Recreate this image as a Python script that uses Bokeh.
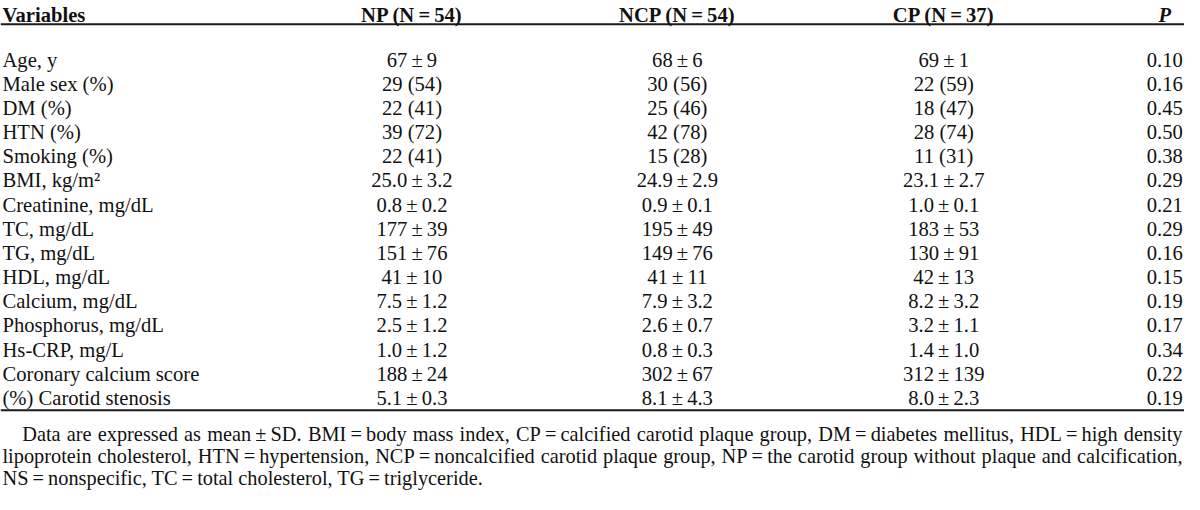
from bokeh.plotting import figure
from bokeh.models import ColumnDataSource, Range1d
from bokeh.core.properties import value
from bokeh.embed import file_html
from bokeh.resources import INLINE

T = "\u2009"  # thin space
PM = T + "\u00b1" + T
EQ = T + "=" + T

# ---------------- data ----------------
headers = ["Variables", "NP (N" + EQ + "54)", "NCP (N" + EQ + "54)", "CP (N" + EQ + "37)", "P"]
variables = ["Age, y", "Male sex (%)", "DM (%)", "HTN (%)", "Smoking (%)", "BMI, kg/m\u00b2",
             "Creatinine, mg/dL", "TC, mg/dL", "TG, mg/dL", "HDL, mg/dL", "Calcium, mg/dL",
             "Phosphorus, mg/dL", "Hs-CRP, mg/L", "Coronary calcium score", "(%) Carotid stenosis"]
np_vals = ["67" + PM + "9", "29 (54)", "22 (41)", "39 (72)", "22 (41)", "25.0" + PM + "3.2",
           "0.8" + PM + "0.2", "177" + PM + "39", "151" + PM + "76", "41" + PM + "10",
           "7.5" + PM + "1.2", "2.5" + PM + "1.2", "1.0" + PM + "1.2", "188" + PM + "24", "5.1" + PM + "0.3"]
ncp_vals = ["68" + PM + "6", "30 (56)", "25 (46)", "42 (78)", "15 (28)", "24.9" + PM + "2.9",
            "0.9" + PM + "0.1", "195" + PM + "49", "149" + PM + "76", "41" + PM + "11",
            "7.9" + PM + "3.2", "2.6" + PM + "0.7", "0.8" + PM + "0.3", "302" + PM + "67", "8.1" + PM + "4.3"]
cp_vals = ["69" + PM + "1", "22 (59)", "18 (47)", "28 (74)", "11 (31)", "23.1" + PM + "2.7",
           "1.0" + PM + "0.1", "183" + PM + "53", "130" + PM + "91", "42" + PM + "13",
           "8.2" + PM + "3.2", "3.2" + PM + "1.1", "1.4" + PM + "1.0", "312" + PM + "139", "8.0" + PM + "2.3"]
p_vals = ["0.10", "0.16", "0.45", "0.50", "0.38", "0.29", "0.21", "0.29", "0.16", "0.15",
          "0.19", "0.17", "0.34", "0.22", "0.19"]

foot1 = ["Data", "are", "expressed", "as", "mean" + PM + "SD.", "BMI" + EQ + "body", "mass", "index,",
         "CP" + EQ + "calcified", "carotid", "plaque", "group,", "DM" + EQ + "diabetes", "mellitus,",
         "HDL" + EQ + "high", "density"]
foot2 = ["lipoprotein", "cholesterol,", "HTN" + EQ + "hypertension,", "NCP" + EQ + "noncalcified",
         "carotid", "plaque", "group,", "NP" + EQ + "the", "carotid", "group", "without", "plaque",
         "and", "calcification,"]
foot3 = "NS" + EQ + "nonspecific, TC" + EQ + "total cholesterol, TG" + EQ + "triglyceride."

# ---------------- layout ----------------
REF_W = 1200
W, H = 1184, 490
Y_TOP, Y_BOT = 1, 515.2          # reference-pixel window shown vertically
SX = W / REF_W
FS = 20.9
FS_FOOT = 20.6
fs = "%.2fpx" % (FS * SX)
fs_foot = "%.2fpx" % (FS_FOOT * SX)
FONT = value("Liberation Serif")
COLOR = "#111111"

# Times / Liberation Serif advance widths (per 1000 em)
TW = {" ": 250, T: 200, "\u00b1": 564, "=": 564, "(": 333, ")": 333, ",": 250, ".": 250, "-": 333,
      "/": 278, "%": 833, "A": 722, "B": 667, "C": 667, "D": 722, "E": 611, "F": 556, "G": 722,
      "H": 722, "I": 333, "L": 611, "M": 889, "N": 722, "P": 556, "S": 556, "T": 611,
      "a": 444, "b": 500, "c": 444, "d": 500, "e": 444, "f": 333, "g": 500, "h": 500, "i": 278,
      "k": 500, "l": 278, "m": 778, "n": 500, "o": 500, "p": 500, "q": 500, "r": 333, "s": 389,
      "t": 278, "u": 500, "v": 500, "w": 722, "x": 500, "y": 500, "z": 444}


def text_w(s, size):
    return sum(TW.get(ch, 500) for ch in s) / 1000.0 * size


def justify(words, x0, x1, size):
    widths = [text_w(w, size) for w in words]
    gap = (x1 - x0 - sum(widths)) / (len(words) - 1)
    xs, x = [], x0
    for wd in widths:
        xs.append(x)
        x += wd + gap
    return xs


p = figure(width=W, height=H, x_range=Range1d(0, REF_W), y_range=Range1d(Y_BOT, Y_TOP),
           title=None, x_axis_type=None, y_axis_type=None, output_backend="svg",
           toolbar_location=None, min_border=0, outline_line_color=None,
           background_fill_color="white", border_fill_color="white")
p.grid.visible = False

# horizontal rules (top of body and bottom of table), drawn as thin filled bands
rule_y = [26, 431]
p.quad(left=[0, 0], right=[REF_W, REF_W], top=[y - 1.0 for y in rule_y],
       bottom=[y + 1.0 for y in rule_y], fill_color="#1a1a1a", line_color=None)

# header
col_x = [2, 417, 686, 956, 1180]
HEAD_Y = 16
p.text(x=[col_x[0]], y=[HEAD_Y], text=[headers[0]], text_font=FONT, text_font_size=fs,
       text_font_style="bold", text_align="left", text_baseline="alphabetic", text_color=COLOR)
p.text(x=col_x[1:4], y=[HEAD_Y] * 3, text=headers[1:4], text_font=FONT, text_font_size=fs,
       text_font_style="bold", text_align="center", text_baseline="alphabetic", text_color=COLOR)
p.text(x=[col_x[4]], y=[HEAD_Y], text=[headers[4]], text_font=FONT, text_font_size=fs,
       text_font_style="bold italic", text_align="center", text_baseline="alphabetic",
       text_color=COLOR)

# body rows
ROW0, ROW_STEP = 63, 25.36
row_y = [ROW0 + i * ROW_STEP for i in range(len(variables))]
src = ColumnDataSource(dict(y=row_y, var=variables, np_=np_vals, ncp=ncp_vals, cp=cp_vals, pv=p_vals))

p.text(x=col_x[0], y="y", text="var", source=src, text_font=FONT, text_font_size=fs,
       text_align="left", text_baseline="alphabetic", text_color=COLOR)
for cx, col in zip(col_x[1:], ["np_", "ncp", "cp", "pv"]):
    p.text(x=cx, y="y", text=col, source=src, text_font=FONT, text_font_size=fs,
           text_align="center", text_baseline="alphabetic", text_color=COLOR)

# footnote
F1, F2, F3 = 456, 479, 502
x1s = justify(foot1, 22, 1198, FS_FOOT)
x2s = justify(foot2, 2, 1198, FS_FOOT)
p.text(x=x1s, y=[F1] * len(foot1), text=foot1, text_font=FONT, text_font_size=fs_foot,
       text_align="left", text_baseline="alphabetic", text_color=COLOR)
p.text(x=x2s, y=[F2] * len(foot2), text=foot2, text_font=FONT, text_font_size=fs_foot,
       text_align="left", text_baseline="alphabetic", text_color=COLOR)
p.text(x=[2], y=[F3], text=[foot3], text_font=FONT, text_font_size=fs_foot,
       text_align="left", text_baseline="alphabetic", text_color=COLOR)

open("out.html", "w").write(file_html(p, INLINE))
